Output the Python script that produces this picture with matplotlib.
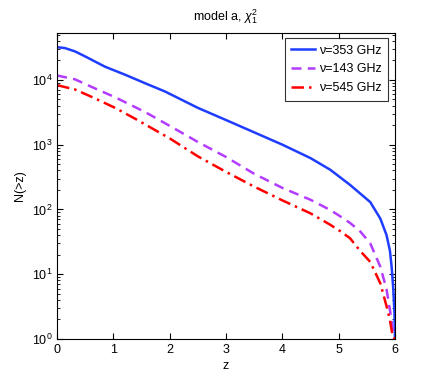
import numpy as np
import matplotlib.pyplot as plt

plt.rcParams['font.family'] = ['Liberation Sans', 'DejaVu Sans']
plt.rcParams['mathtext.fontset'] = 'custom'
plt.rcParams['mathtext.rm'] = 'Liberation Sans'
plt.rcParams['mathtext.it'] = 'Liberation Sans:italic'

# values, N(>z) per frequency
z_353 = [0, 0.14, 0.32, 0.5, 0.85, 1.21, 1.56, 1.92, 2.5, 3, 3.5, 4, 4.5, 4.85,
         5.2, 5.56, 5.74, 5.85, 5.91, 5.94, 5.97, 5.99, 6.0]
n_353 = [3.2e4, 3.1e4, 2.75e4, 2.3e4, 1.6e4, 1.2e4, 8.9e3, 6.6e3, 3.7e3, 2.4e3, 1.55e3, 1.0e3,
         620, 410, 240, 130, 72, 40, 23, 13, 5.8, 2.5, 1]

z_143 = [0, 0.32, 0.67, 1.03, 1.56, 2, 2.5, 3, 3.5, 4, 4.5, 4.85, 5.03, 5.2,
         5.38, 5.56, 5.74, 5.85, 5.91, 5.97, 6.0]
n_143 = [1.17e4, 1.02e4, 7.4e3, 5.4e3, 3.2e3, 1.95e3, 1.1e3, 645, 355, 215, 141, 98,
         78, 62, 46, 30, 13, 5.8, 2.8, 1.23, 1]

z_545 = [0, 0.32, 0.67, 1.03, 1.39, 2, 2.5, 3, 3.5, 4, 4.5, 4.85, 5.03, 5.2,
         5.38, 5.56, 5.74, 5.85, 5.91, 5.96, 6.0]
n_545 = [8.3e3, 7.1e3, 5.2e3, 3.7e3, 2.5e3, 1.25e3, 660, 380, 225, 138, 87, 58,
         46, 36, 23, 15.5, 7.2, 3.2, 1.95, 1.07, 1]

labels = ['\u03bd=353 GHz', '\u03bd=143 GHz', '\u03bd=545 GHz']

fig = plt.figure(figsize=(4.36, 3.82), dpi=100)
ax = fig.add_axes([0.131, 0.1126, 0.775, 0.801])

ax.plot(z_353, n_353, color='#1f3dff', lw=1.8, label=labels[0])
ax.plot(z_143, n_143, color='#b33cff', lw=1.8, ls=(0, (4, 2.5)), label=labels[1])
ax.plot(z_545, n_545, color='#ff0000', lw=1.8, ls=(0, (5, 2, 1, 2)), label=labels[2])

ax.set_yscale('log')
ax.set_xlim(0, 6)
ax.set_ylim(1, 5.3e4)
ax.set_xticks(range(7))
ax.tick_params(which='both', direction='in', top=True, right=True, labelsize=9)
ax.tick_params(which='major', length=4)
ax.tick_params(which='minor', length=2)
ax.set_xlabel('z', fontsize=9, labelpad=3)
ax.set_ylabel('N(>z)', fontsize=9)
ax.set_title(r'model a, $\chi_1^2$', fontsize=9, pad=9)

leg = ax.legend(loc='upper right', fontsize=9, fancybox=False, edgecolor='black',
                handlelength=1.9, handletextpad=0.3, borderpad=0.5, labelspacing=0.55,
                borderaxespad=0.3, bbox_to_anchor=(0.99, 0.995))
leg.get_frame().set_linewidth(0.8)

fig.savefig('out.png', dpi=100)
